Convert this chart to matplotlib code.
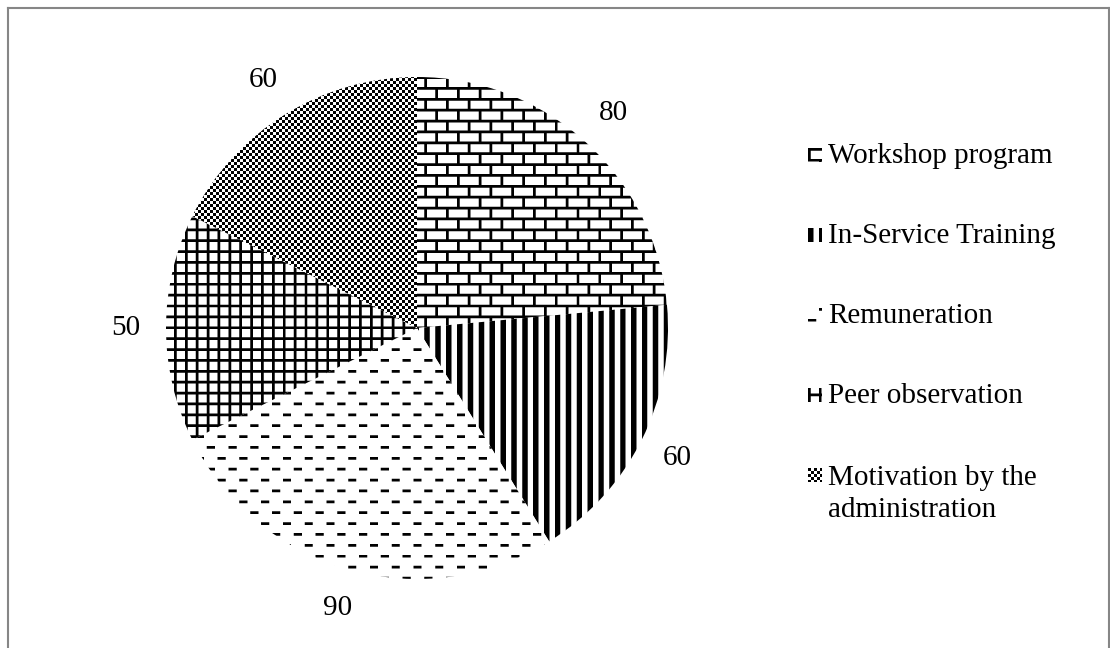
import numpy as np
import matplotlib
matplotlib.use("Agg")
import matplotlib.pyplot as plt
from matplotlib.lines import Line2D

# ---------------- data ----------------
categories = ["Workshop program", "In-Service Training", "Remuneration",
              "Peer observation", "Motivation by the\nadministration"]
values = [80, 60, 90, 50, 60]
value_labels = [str(v) for v in values]
patterns = ["brick", "vertical", "dash", "grid", "checker"]

# ---------------- figure ----------------
W, H, DPI = 1110, 648, 100
plt.rcParams["font.family"] = ["Liberation Serif", "DejaVu Serif"]
fig = plt.figure(figsize=(W / DPI, H / DPI), dpi=DPI)
fig.patch.set_facecolor("white")

FS = 21
cx, cy, R = 417, H - 328, 251
ax = fig.add_axes([(cx - R) / W, (cy - R) / H, 2 * R / W, 2 * R / H])
wedges, texts = ax.pie(values, labels=value_labels, startangle=90,
                       counterclock=False, radius=1, labeldistance=1.16,
                       wedgeprops=dict(facecolor="white", edgecolor="none",
                                       linewidth=0),
                       textprops=dict(fontsize=FS, color="black"))
for t in texts:
    t.set_ha("center")
    t.set_va("center")
ax.set_xlim(-1, 1)
ax.set_ylim(-1, 1)
ax.axis("off")

# ---------------- pattern fills ----------------
S_DEFAULT = 2.72   # screen pixels per pattern pixel
S_KIND = {"checker": 3.0}
SS = 4             # supersampling


def pattern_mask(kind, px, py):
    if kind == "brick":
        row = py % 8
        col = px % 8
        return (row % 4 == 0) | ((row < 4) & (col == 0)) | ((row >= 4) & (col == 4))
    if kind == "vertical":
        return (px % 4 < 2) & (py >= -10**9)
    if kind == "dash":
        row = py % 8
        col = px % 8
        return ((row == 0) & (col < 3)) | ((row == 4) & (col >= 4) & (col < 7))
    if kind == "grid":
        return (px % 4 == 0) | (py % 4 == 0)
    if kind == "checker":
        return (px + py) % 2 == 0
    return np.zeros(np.broadcast(px, py).shape, bool)


def pattern_image(kind, w, h, ox=0.0, oy=0.0):
    s = S_KIND.get(kind, S_DEFAULT)
    xs = (np.arange(w * SS) + 0.5) / SS + ox
    ys = (np.arange(h * SS) + 0.5) / SS + oy
    px = np.floor(xs / s).astype(int)[None, :]
    py = np.floor(ys / s).astype(int)[:, None]
    m = pattern_mask(kind, px, py).astype(float)
    dark = m.reshape(h, SS, w, SS).mean(axis=(1, 3))
    g = 1.0 - dark
    return np.dstack([g, g, g, np.ones_like(g)])


for w, k in zip(wedges, patterns):
    im = fig.figimage(pattern_image(k, W, H), xo=0, yo=0, origin="upper", zorder=1)
    im.set_clip_path(w)

# ---------------- legend (manual) ----------------
lx_marker, lx_text = 808, 828
base0, step, msize = 163, 80, 14
line_gap = 34
marker_phase = {"brick": (0.0, 0.0), "vertical": (0.0, 0.0),
                "dash": (0.0, 4 * S_DEFAULT), "grid": (0.0, 2 * S_DEFAULT),
                "checker": (0.0, 0.0)}
for i, (lab, k) in enumerate(zip(categories, patterns)):
    base = base0 + step * i           # baseline of the first text line
    top = base - 1 - msize
    ox, oy = marker_phase[k]
    mk = pattern_image(k, msize, msize, ox, oy)
    fig.figimage(mk, xo=lx_marker, yo=H - (top + msize), origin="upper", zorder=2)
    nlines = lab.count("\n") + 1
    last_base = base + line_gap * (nlines - 1)
    fig.text(lx_text / W, 1 - last_base / H, lab, fontsize=FS, ha="left",
             va="baseline", linespacing=1.3, color="black")

# ---------------- outer frame ----------------
fc = "#868686"
fig.add_artist(Line2D([7.5 / W, 7.5 / W], [0, 1 - 7.5 / H],
                      transform=fig.transFigure, color=fc, lw=1.5))
fig.add_artist(Line2D([7.5 / W, 1108.5 / W], [1 - 7.5 / H, 1 - 7.5 / H],
                      transform=fig.transFigure, color=fc, lw=1.5))
fig.add_artist(Line2D([1108.5 / W, 1108.5 / W], [0, 1 - 7.5 / H],
                      transform=fig.transFigure, color=fc, lw=1.5))

fig.savefig("out.png", dpi=DPI, facecolor="white")
